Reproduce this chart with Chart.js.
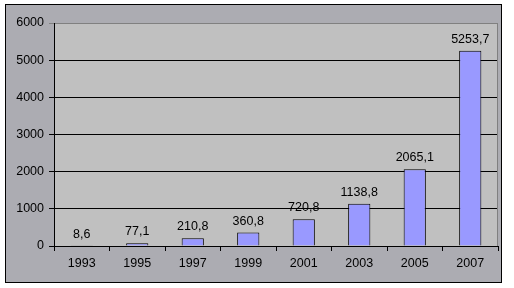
<!DOCTYPE html>
<html>
<head>
  <meta charset="UTF-8">
  <title>1993 - 2007</title>
  <script src="https://cdn.jsdelivr.net/npm/chart.js"></script>
  <style>
    body { margin: 0; padding: 0; background: #fff; }
    #box { width: 514px; height: 288px; }
  </style>
</head>
<body>
<div id="box"><canvas id="chart" width="514" height="288"></canvas></div>
<script>
  const years = ["1993", "1995", "1997", "1999", "2001", "2003", "2005", "2007"];
  const values = [8.6, 77.1, 210.8, 360.8, 720.8, 1138.8, 2065.1, 5253.7];
  const valueLabels = ["8,6", "77,1", "210,8", "360,8", "720,8", "1138,8", "2065,1", "5253,7"];

  const FONT = { family: "'Liberation Sans', Arial, sans-serif", size: 12.5 };

  // фон диаграммы и области построения
  const backdrop = {
    id: "backdrop",
    beforeDraw(chart) {
      const c = chart.ctx, a = chart.chartArea;
      c.save();
      c.fillStyle = "#fff";
      c.fillRect(0, 0, chart.width, chart.height);
      c.fillStyle = "#acacb2";
      c.fillRect(5, 4, 497, 279);
      c.strokeStyle = "#000";
      c.lineWidth = 1;
      c.strokeRect(5.5, 4.5, 496, 278);
      c.fillStyle = "#c0c0c0";
      c.fillRect(a.left, a.top, a.right - a.left, a.bottom - a.top);
      c.restore();
    },
    afterDatasetsDraw(chart) {
      const c = chart.ctx, a = chart.chartArea;
      c.save();
      c.strokeStyle = "#808080";
      c.lineWidth = 1;
      c.beginPath();
      c.moveTo(a.right - 0.5, a.top);
      c.lineTo(a.right - 0.5, a.bottom);
      c.stroke();
      // подписи значений
      c.fillStyle = "#000";
      c.font = FONT.size + "px " + FONT.family;
      c.textAlign = "center";
      c.textBaseline = "bottom";
      chart.getDatasetMeta(0).data.forEach((bar, i) => {
        c.fillText(valueLabels[i], bar.x, bar.y - 5);
      });
      c.restore();
    }
  };

  new Chart(document.getElementById("chart"), {
    type: "bar",
    data: {
      labels: years,
      datasets: [{
        data: values,
        backgroundColor: "#9999ff",
        borderColor: "#000",
        borderWidth: 1,
        barPercentage: 0.5,
        categoryPercentage: 0.8
      }]
    },
    options: {
      responsive: false,
      animation: false,
      layout: { padding: { left: 5, top: 23, right: 16, bottom: 5 } },
      plugins: { legend: { display: false }, tooltip: { enabled: false } },
      scales: {
        x: {
          afterFit: s => { s.height = 37; },
          grid: { drawOnChartArea: false, drawTicks: true, tickLength: 5, color: "#000", offset: true },
          border: { color: "#000" },
          ticks: { color: "#000", font: FONT, padding: 5, maxRotation: 0 }
        },
        y: {
          min: 0,
          max: 6000,
          afterFit: s => { s.width = 49; },
          grid: {
            tickLength: 5,
            color: ctx => (ctx.tick && ctx.tick.value === 6000) ? "#808080" : "#000"
          },
          border: { color: "#000" },
          ticks: { stepSize: 1000, color: "#000", font: FONT, padding: 5, callback: v => String(v) }
        }
      }
    },
    plugins: [backdrop]
  });
</script>
</body>
</html>
